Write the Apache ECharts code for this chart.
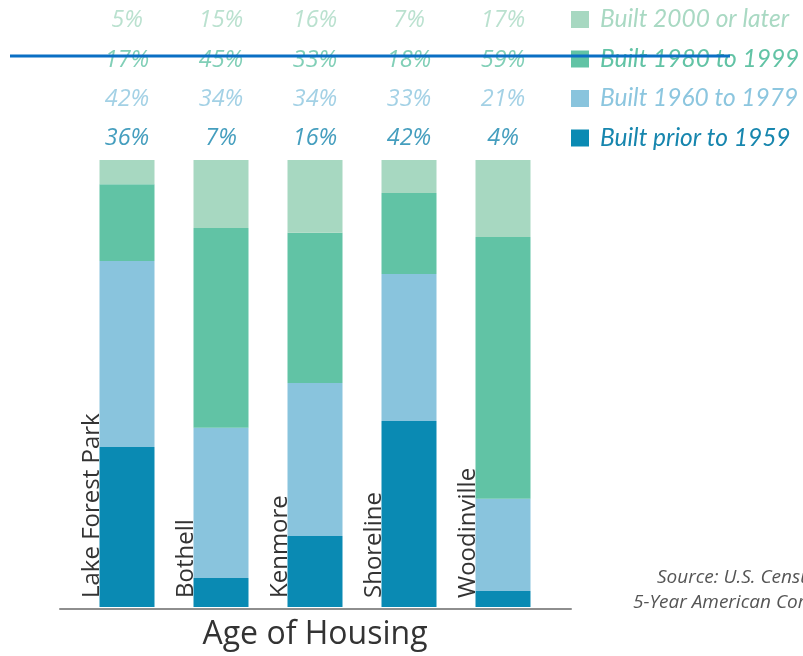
<!DOCTYPE html>
<html>
<head>
    <meta charset="utf-8">
    <script src="https://cdn.jsdelivr.net/npm/echarts@6/dist/echarts.min.js"></script>
    <style>
        html, body { margin: 0; padding: 0; background: #fff; }
        #container { width: 803px; height: 656px; }
    </style>
</head>
<body>
<div id="container"></div>
<script>
    // categories
    let cities = ['Lake Forest Park', 'Bothell', 'Kenmore', 'Shoreline', 'Woodinville'];
    let seriesNames = ['Built prior to 1959', 'Built 1960 to 1979', 'Built 1980 to 1999', 'Built 2000 or later'];
    // bar shares
    let prior1959 = [35.8, 6.5, 15.9, 41.6, 3.6];
    let built1960 = [41.6, 33.6, 34.2, 32.9, 20.6];
    let built1980 = [17.2, 44.7, 33.6, 18.1, 58.6];
    let built2000 = [5.4, 15.2, 16.3, 7.4, 17.2];
    // percentages printed above the bars
    let pct1959 = [36, 7, 16, 42, 4];
    let pct1960 = [42, 34, 34, 33, 21];
    let pct1980 = [17, 45, 33, 18, 59];
    let pct2000 = [5, 15, 16, 7, 17];

    let colors = ['#0a8ab3', '#89c4dd', '#61c3a5', '#a7d8c1'];
    let textColors = ['#1786ae', '#8cc6df', '#62c3a5', '#a9d9c3'];
    let barData = [prior1959, built1960, built1980, built2000];
    let pctData = [pct1959, pct1960, pct1980, pct2000];

    let dom = document.getElementById("container");
    let myChart = echarts.init(dom);

    let series = [];
    barData.forEach(function (vals, i) {
        let s = {
            name: seriesNames[i],
            type: 'bar',
            stack: 'total',
            xAxisIndex: 0,
            yAxisIndex: 0,
            barWidth: 55,
            data: vals,
            itemStyle: {color: colors[i]},
            emphasis: {disabled: true}
        };
        if (i === 0) {
            // city name written upward, just left of the bar (offset is in rotated frame)
            s.label = {
                show: true,
                formatter: '{b}',
                position: [0, '100%'],
                rotate: 90,
                align: 'left',
                verticalAlign: 'bottom',
                offset: [9, 5],
                fontFamily: 'Open Sans',
                fontSize: 24,
                color: '#333'
            };
        }
        series.push(s);
    });
    // rows of printed percentages
    pctData.forEach(function (vals, i) {
        series.push({
            name: 'pct' + i,
            type: 'scatter',
            xAxisIndex: 1,
            yAxisIndex: 1,
            symbolSize: 1,
            itemStyle: {color: 'rgba(0,0,0,0)'},
            silent: true,
            data: vals.map(function (v, j) { return [j, i, v]; }),
            label: {
                show: true,
                position: 'inside',
                formatter: function (p) { return p.value[2] + '%'; },
                fontFamily: 'Open Sans',
                fontStyle: 'italic',
                fontSize: 23.5,
                color: textColors[i]
            }
        });
    });

    let legendData = [3, 2, 1, 0].map(function (i) {
        return {name: seriesNames[i], icon: 'rect', textStyle: {color: textColors[i]}};
    });

    let option = {
        animation: false,
        grid: [
            {left: 80, width: 470, top: 160, bottom: 48},
            {left: 80, width: 470, top: 1, height: 157},
            {left: 60, width: 511, top: 160, bottom: 47}
        ],
        xAxis: [
            {
                type: 'category', gridIndex: 0, data: cities,
                axisLine: {show: false}, axisTick: {show: false}, axisLabel: {show: false},
                name: 'Age of Housing', nameLocation: 'middle', nameGap: 12,
                nameTextStyle: {fontFamily: 'Open Sans', fontSize: 32, color: '#333'}
            },
            {type: 'category', gridIndex: 1, data: cities, show: false},
            {
                type: 'value', gridIndex: 2, min: 0, max: 1,
                axisLine: {show: true, lineStyle: {color: '#8e8e8e', width: 2}},
                axisTick: {show: false}, axisLabel: {show: false}, splitLine: {show: false}
            }
        ],
        yAxis: [
            {type: 'value', gridIndex: 0, min: 0, max: 100, show: false},
            {type: 'category', gridIndex: 1, data: seriesNames, show: false},
            {type: 'value', gridIndex: 2, show: false}
        ],
        legend: {
            orient: 'vertical',
            left: 571,
            top: 7,
            padding: 0,
            itemWidth: 18,
            itemHeight: 17,
            itemGap: 14.5,
            selectedMode: false,
            data: legendData,
            textStyle: {
                fontFamily: 'Lato',
                fontStyle: 'italic',
                fontSize: 24.5,
                lineHeight: 24,
                padding: [0, 0, 0, 6]
            }
        },
        graphic: [
            {
                type: 'text', left: 657, top: 568,
                style: {text: 'Source: U.S. Census Bureau, ACS', font: 'italic 19px "Open Sans"', fill: '#555'}
            },
            {
                type: 'text', left: 633, top: 593,
                style: {text: '5-Year American Community Survey', font: 'italic 19px "Open Sans"', fill: '#555'}
            },
            {
                type: 'line', z: 100,
                shape: {x1: 10, y1: 56, x2: 730, y2: 56},
                style: {stroke: '#0a6fc4', lineWidth: 3}
            }
        ],
        series: series
    };

    myChart.setOption(option);
</script>
</body>
</html>
